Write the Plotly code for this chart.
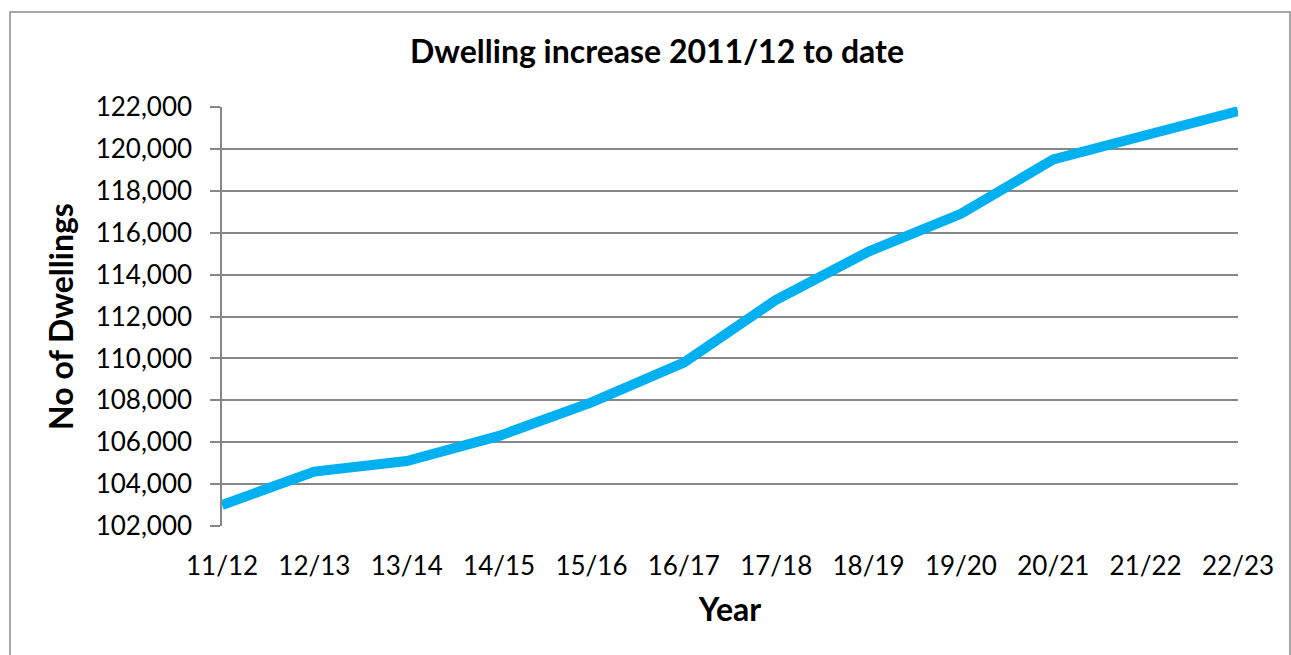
import plotly.graph_objects as go

# Financial years and cumulative dwelling counts
years = ["11/12", "12/13", "13/14", "14/15", "15/16", "16/17",
         "17/18", "18/19", "19/20", "20/21", "21/22", "22/23"]
dwellings = [103000, 104600, 105100, 106300, 107900, 109800,
             112800, 115100, 116900, 119500, 120650, 121800]

y_ticks = list(range(102000, 122001, 2000))

FONT = "Lato"
GRID = "#878787"

fig = go.Figure()
fig.add_trace(go.Scatter(
    x=list(range(len(years))), y=dwellings, mode="lines",
    line=dict(color="#00B0F0", width=10),
    hoverinfo="x+y", showlegend=False,
))

fig.update_layout(
    width=1291, height=655,
    margin=dict(l=222, r=53, t=107, b=129),
    paper_bgcolor="white", plot_bgcolor="white",
    font=dict(family=FONT, color="black"),
    title=dict(text="<b>Dwelling increase 2011/12 to date</b>",
               x=(657 - 222) / (1238 - 222), xref="paper", xanchor="center",
               y=1 - 52 / 655, yref="container", yanchor="middle",
               font=dict(size=32, family=FONT, color="black")),
    xaxis=dict(
        tickmode="array", tickvals=list(range(len(years))), ticktext=years,
        range=[0, len(years) - 1], showgrid=False, zeroline=False,
        showline=False, ticks="", ticklabelstandoff=22,
        tickfont=dict(size=26, family=FONT),
        title=dict(text="<b>Year</b>", font=dict(size=32, family=FONT), standoff=18),
    ),
    yaxis=dict(
        range=[102000, 122000], tickmode="array", tickvals=y_ticks,
        ticktext=[f"{v:,}" for v in y_ticks],
        showgrid=True, gridcolor=GRID, gridwidth=1.5,
        showline=True, linecolor=GRID, linewidth=1.5,
        ticks="outside", ticklen=10, tickcolor=GRID, tickwidth=1.5,
        ticklabelstandoff=13, zeroline=False,
        tickfont=dict(size=26, family=FONT),
        title=dict(text="<b>No of Dwellings</b>", font=dict(size=32, family=FONT), standoff=12),
    ),
    shapes=[dict(type="rect", xref="paper", yref="paper",
                 x0=(10 - 222) / 1016, x1=(1290 - 222) / 1016,
                 y0=-0.5, y1=(526 - 12) / 419,
                 line=dict(color="#8c8c8c", width=1.5), fillcolor="rgba(0,0,0,0)",
                 layer="below")],
)

fig.write_html("out.html")
